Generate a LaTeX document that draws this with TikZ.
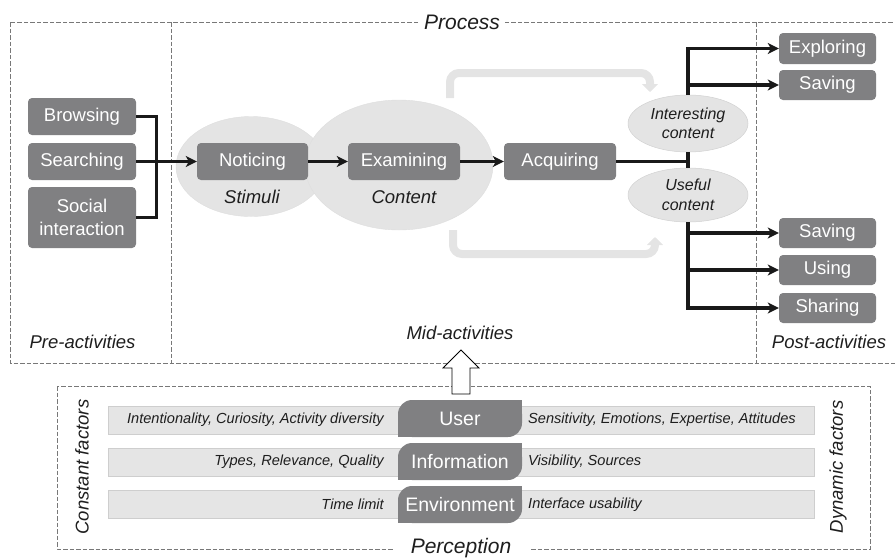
\documentclass[tikz,border=0pt]{standalone}
\usepackage{fontspec}
\setmainfont{Liberation Sans}
\usetikzlibrary{arrows.meta, shapes.geometric, positioning}

\pgfdeclarelayer{background}
\pgfsetlayers{background,main}

\definecolor{boxgray}{RGB}{128,128,130}
\definecolor{halogray}{RGB}{228,228,228}
\definecolor{bargray}{RGB}{229,229,229}
\definecolor{barline}{RGB}{206,206,206}
\definecolor{dashgray}{RGB}{120,120,120}
\definecolor{textdark}{RGB}{30,30,30}

\begin{document}
\begin{tikzpicture}[
    x=1pt, y=-1pt,
    >={Stealth[length=11pt, width=11pt, inset=3pt]},
    act_box/.style={rectangle, rounded corners=4pt, fill=boxgray, text=white,
        font=\fontsize{18.5}{22.5}\selectfont, align=center, inner sep=0pt,
        minimum height=37pt},
    post_box/.style={act_box, minimum width=97pt, minimum height=31pt},
    halo/.style={ellipse, fill=halogray, draw=black!13, line width=0.4pt},
    content_ell/.style={ellipse, fill=halogray, draw=black!18, line width=0.5pt,
        inner sep=0pt, text=textdark, align=center,
        font=\fontsize{16}{19.5}\selectfont\itshape},
    link/.style={line width=3.4pt, black!90},
    feedback/.style={line width=8pt, halogray, rounded corners=9pt,
        -{Triangle[length=8pt, width=16pt]}},
    frame/.style={dashgray, line width=0.8pt, dash pattern=on 4.5pt off 2pt},
    title_style/.style={fill=white, text=textdark, inner ysep=2pt,
        font=\fontsize{21}{24}\selectfont\itshape},
    label_style/.style={text=textdark, inner sep=0pt,
        font=\fontsize{18.5}{22}\selectfont\itshape},
    bar/.style={rectangle, fill=bargray, draw=barline, line width=0.8pt,
        minimum width=706pt, minimum height=28pt, inner sep=0pt},
    tab/.style={rectangle, rounded corners=14pt, fill=boxgray, text=white,
        minimum width=124pt, minimum height=37pt, inner sep=0pt,
        font=\fontsize{19.5}{22}\selectfont},
    factor_style/.style={text=textdark, inner sep=0pt,
        font=\fontsize{14.6}{17}\selectfont\itshape}
]
\useasboundingbox (0,0) rectangle (895,558);

% Process frame and its three parts
\draw[frame] (10,22) rectangle (900,363);
\draw[frame] (171,22) -- (171,363);
\draw[frame] (756,22) -- (756,363);
\node[title_style, inner xsep=4pt] (process) at (462,22) {Process};

% Perception frame
\draw[frame] (57,386) rectangle (870,549);
\node[title_style, inner xsep=18pt] (perception) at (461,548) {Perception};

% Halos behind noticing and examining
\node[halo, minimum width=150pt, minimum height=100pt] (stim_halo) at (251,166.5) {};
\node[halo, minimum width=188pt, minimum height=130pt] (cont_halo) at (399,165) {};

% Feedback arrows
\draw[feedback] (450,98) -- (450,73) -- (650,73) -- (650,92);
\draw[feedback] (453,230) -- (453,254) -- (655,254) -- (655,237);

% Pre-activities
\node[act_box, minimum width=108pt] (browse) at (82,116.5) {Browsing};
\node[act_box, minimum width=108pt] (search) at (82,161.5) {Searching};
\node[act_box, minimum width=108pt, minimum height=61pt] (social) at (82,217.5) {Social\\interaction};

% Mid-activities
\node[act_box, minimum width=111pt] (notice) at (252.5,161.5) {Noticing};
\node[act_box, minimum width=112pt] (examine) at (404,161.5) {Examining};
\node[act_box, minimum width=112pt] (acquire) at (560,161.5) {Acquiring};
\node[label_style] (stimuli) at (252,197) {Stimuli};
\node[label_style] (content) at (404,197) {Content};

\node[content_ell, minimum width=120pt, minimum height=57pt] (interest) at (688,123.5) {Interesting\\content};
\node[content_ell, minimum width=120pt, minimum height=54pt] (useful) at (688,195) {Useful\\content};

% Post-activities
\node[post_box] (explore) at (827.5,48.5) {Exploring};
\node[post_box, minimum height=30pt] (save_a) at (827.5,85) {Saving};
\node[post_box, minimum height=30pt] (save_b) at (827.5,233) {Saving};
\node[post_box, minimum height=30pt] (use) at (827.5,270) {Using};
\node[post_box, minimum height=30pt] (share) at (827.5,308) {Sharing};

% Connectors
\coordinate (join) at (156.5,161.5);
\draw[link] (browse.east) -| (join) |- (social.east);
\draw[link, ->] (search) -- (notice);
\draw[link, ->] (notice) -- (examine);
\draw[link, ->] (examine) -- (acquire);
\draw[link] (acquire) -- (acquire -| interest.south);
\draw[link] (interest.south) -- (useful.north);
\draw[link, ->] (interest.north) |- (explore);
\draw[link, ->] (interest.north) |- (save_a);
\draw[link, ->] (useful.south) |- (save_b);
\draw[link, ->] (useful.south) |- (use);
\draw[link, ->] (useful.south) |- (share);

% Part labels
\node[label_style] (pre) at (82.5,342) {Pre-activities};
\node[label_style] (mid) at (460,333) {Mid-activities};
\node[label_style] (post) at (829,342) {Post-activities};

% Hollow arrow from perception up to the process
\draw[black, line width=0.8pt, fill=white]
    (452,394) -- (452,368) -- (443,368) -- (461,350) -- (479,368)
    -- (470,368) -- (470,394) -- cycle;

% Tabs: top left and bottom right corners rounded
\node[tab] (user) at (460,418.5) {User};
\node[tab] (info) at (460,461.5) {Information};
\node[tab] (env) at (460,504.5) {Environment};

% Factor bars behind the tabs
\begin{pgfonlayer}{background}
\node[bar] (user_bar) at (461,420) {};
\node[bar] (info_bar) at (461,462) {};
\node[bar] (env_bar) at (461,504.5) {};
\foreach \t in {user, info, env} {
    \fill[boxgray] (\t.north east) rectangle ++(-16,16);
    \fill[boxgray] (\t.south west) rectangle ++(16,-16);
}
\end{pgfonlayer}

% Constant and dynamic factors
\node[factor_style, anchor=east] (user_c) at (384,420) {Intentionality, Curiosity, Activity diversity};
\node[factor_style, anchor=west] (user_d) at (528,420) {Sensitivity, Emotions, Expertise, Attitudes};
\node[factor_style, anchor=east] (info_c) at (384,462) {Types, Relevance, Quality};
\node[factor_style, anchor=west] (info_d) at (528,462) {Visibility, Sources};
\node[factor_style, anchor=east] (env_c) at (384,504.5) {Time limit};
\node[factor_style, anchor=west] (env_d) at (528,504.5) {Interface usability};

\node[label_style, rotate=90] (constant) at (82,467) {Constant factors};
\node[label_style, rotate=90] (dynamic) at (838,467) {Dynamic factors};

\end{tikzpicture}
\end{document}
